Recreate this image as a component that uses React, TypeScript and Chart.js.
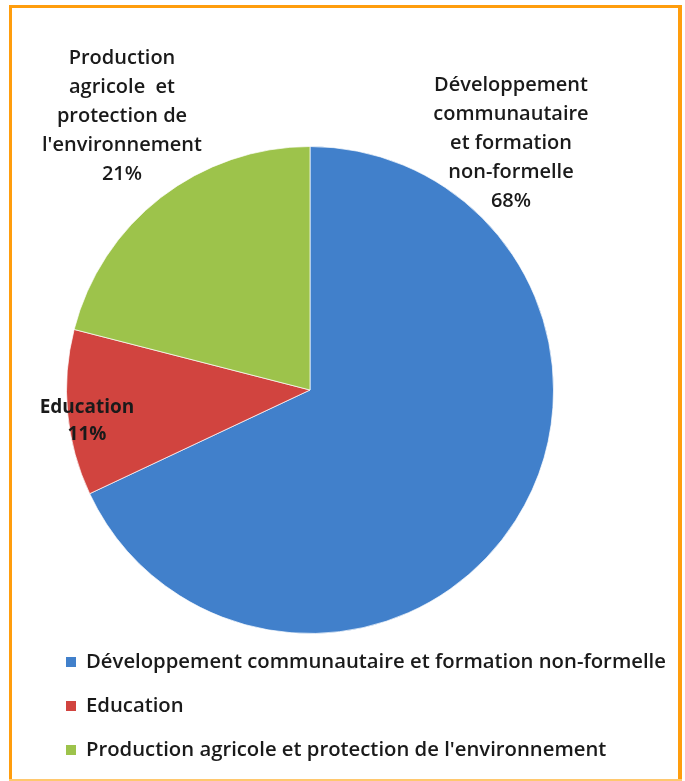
import React, { useEffect, useRef } from "react";
import { Chart, registerables } from "chart.js";

Chart.register(...registerables);

const categories = [
  "Développement communautaire et formation non-formelle",
  "Education",
  "Production agricole et protection de l'environnement",
];
const values = [68, 11, 21];
const colors = ["#4180cb", "#d1443f", "#9dc34b"];
const labelLines = [
  ["Développement", "communautaire", "et formation", "non-formelle"],
  ["Education"],
  ["Production", "agricole  et", "protection de", "l'environnement"],
];

const FONT = "'Open Sans', 'DejaVu Sans', sans-serif";

const framePlugin = {
  id: "frame",
  beforeDraw(chart: any) {
    const ctx = chart.ctx;
    ctx.save();
    ctx.fillStyle = "#ffffff";
    ctx.fillRect(0, 0, chart.width, chart.height);
    ctx.fillStyle = "#ff9d0d";
    ctx.fillRect(9, 5, 673, 3);
    ctx.fillRect(9, 5, 3, 776);
    ctx.fillRect(678, 5, 4, 776);
    ctx.fillStyle = "#ffc86e";
    ctx.fillRect(9, 779, 673, 2);
    ctx.restore();
  },
};

const labelPos = [
  { x: 511, y: 85, gap: 29 },
  { x: 87, y: 408, gap: 27 },
  { x: 122, y: 58, gap: 29 },
];

const labelsPlugin = {
  id: "sliceLabels",
  afterDraw(chart: any) {
    const ctx = chart.ctx;
    const data = chart.data.datasets[0].data as number[];
    const total = data.reduce((a, b) => a + b, 0);
    ctx.save();
    ctx.fillStyle = "#1a1a1a";
    ctx.textAlign = "center";
    ctx.textBaseline = "middle";
    data.forEach((v, i) => {
      const lines = [...labelLines[i], `${Math.round((v / total) * 100)}%`];
      const p = labelPos[i];
      ctx.font = i === 1 ? `bold 19px ${FONT}` : `600 20px ${FONT}`;
      lines.forEach((t, k) => ctx.fillText(t, p.x, p.y + k * p.gap));
    });
    // legend
    ctx.textAlign = "left";
    ctx.font = `600 20.3px ${FONT}`;
    const lx = 66;
    const ly = [662, 706, 750];
    categories.forEach((c, i) => {
      ctx.fillStyle = colors[i];
      ctx.fillRect(lx, ly[i] - 5, 10, 10);
      ctx.fillStyle = "#1a1a1a";
      ctx.fillText(c, lx + 20, ly[i]);
    });
    ctx.restore();
  },
};

export default function App() {
  const ref = useRef<HTMLCanvasElement>(null);
  useEffect(() => {
    const chart = new Chart(ref.current as HTMLCanvasElement, {
      type: "pie",
      data: {
        labels: categories,
        datasets: [
          {
            data: values,
            backgroundColor: colors,
            borderColor: "rgba(255,255,255,0.7)",
            borderWidth: 1,
          },
        ],
      },
      options: {
        responsive: false,
        animation: false,
        devicePixelRatio: 1,
        layout: { padding: { left: 66, right: 131, top: 146, bottom: 147 } },
        plugins: {
          legend: { display: false },
          tooltip: { enabled: false },
        },
      },
      plugins: [framePlugin, labelsPlugin],
    } as any);
    return () => chart.destroy();
  }, []);
  return (
    <div style={{ position: "absolute", left: 0, top: 0, width: 685, height: 781 }}>
      <canvas ref={ref} width={685} height={781} style={{ display: "block" }} />
    </div>
  );
}
